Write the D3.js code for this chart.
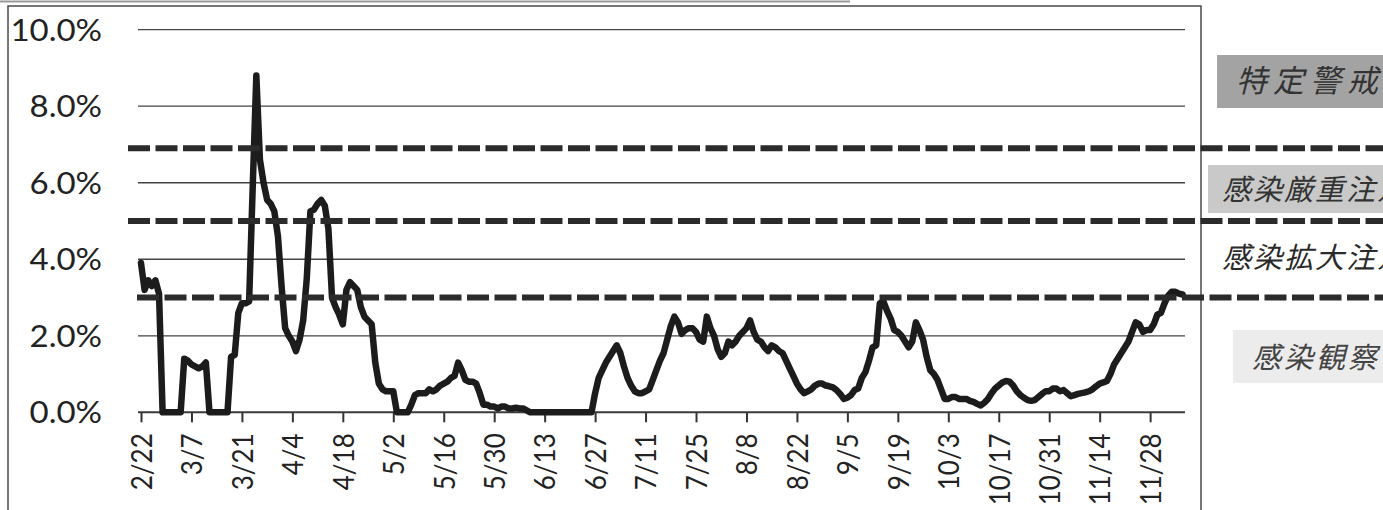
<!DOCTYPE html>
<html>
<head>
<meta charset="utf-8">
<script src="https://cdn.jsdelivr.net/npm/d3@7"></script>
<style>
  html, body { margin: 0; padding: 0; background: #fff; }
  svg { display: block; }
</style>
</head>
<body>
<svg id="chart" width="1383" height="510"></svg>
<script>
// Daily positive rate (%), one value per day starting at startDate
const startDate = "2020-02-22";
const positiveRate = [
  3.9, 3.2, 3.45, 3.3, 3.45, 3.1, 0, 0, 0, 0,
  0, 0, 1.4, 1.35, 1.25, 1.2, 1.15, 1.2, 1.3, 0,
  0, 0, 0, 0, 0, 1.45, 1.5, 2.6, 2.85, 2.85,
  2.9, 5.9, 8.8, 6.6, 6.0, 5.55, 5.45, 5.25, 4.6, 3.3,
  2.2, 2.0, 1.85, 1.6, 1.9, 2.4, 3.5, 5.25, 5.3, 5.45,
  5.55, 5.4, 4.8, 3.0, 2.75, 2.55, 2.3, 3.2, 3.4, 3.3,
  3.2, 2.75, 2.5, 2.4, 2.3, 1.3, 0.75, 0.6, 0.55, 0.55,
  0.55, 0, 0, 0, 0, 0.2, 0.45, 0.5, 0.5, 0.5,
  0.6, 0.55, 0.6, 0.7, 0.75, 0.8, 0.9, 0.95, 1.3, 1.1,
  0.85, 0.8, 0.8, 0.75, 0.5, 0.2, 0.2, 0.15, 0.15, 0.1,
  0.15, 0.15, 0.1, 0.1, 0.12, 0.1, 0.1, 0.05, 0, 0,
  0, 0, 0, 0, 0, 0, 0, 0, 0, 0,
  0, 0, 0, 0, 0, 0, 0.5, 0.9, 1.1, 1.3,
  1.45, 1.6, 1.75, 1.55, 1.2, 0.9, 0.7, 0.55, 0.5, 0.5,
  0.55, 0.6, 0.85, 1.1, 1.35, 1.55, 1.9, 2.25, 2.5, 2.35,
  2.05, 2.15, 2.2, 2.2, 2.1, 1.9, 1.85, 2.5, 2.2, 2.0,
  1.65, 1.45, 1.55, 1.85, 1.75, 1.85, 2.0, 2.1, 2.2, 2.4,
  2.1, 1.9, 1.85, 1.7, 1.6, 1.75, 1.7, 1.6, 1.55, 1.35,
  1.15, 0.95, 0.75, 0.6, 0.5, 0.55, 0.6, 0.7, 0.75, 0.75,
  0.7, 0.68, 0.65, 0.58, 0.48, 0.35, 0.38, 0.45, 0.58, 0.62,
  0.9, 1.05, 1.35, 1.7, 1.75, 2.85, 2.9, 2.65, 2.45, 2.15,
  2.1, 2.0, 1.85, 1.7, 1.85, 2.35, 2.15, 1.9, 1.45, 1.1,
  1.0, 0.85, 0.6, 0.35, 0.35, 0.4, 0.4, 0.35, 0.35, 0.35,
  0.3, 0.27, 0.22, 0.18, 0.25, 0.35, 0.5, 0.62, 0.7, 0.78,
  0.82, 0.8, 0.7, 0.55, 0.45, 0.38, 0.32, 0.3, 0.32, 0.4,
  0.48, 0.55, 0.55, 0.62, 0.62, 0.55, 0.58, 0.5, 0.42, 0.45,
  0.48, 0.5, 0.52, 0.55, 0.6, 0.68, 0.75, 0.78, 0.82, 1.0,
  1.25, 1.4, 1.55, 1.7, 1.85, 2.1, 2.35, 2.3, 2.1, 2.15,
  2.15, 2.3, 2.55, 2.6, 2.85, 3.05, 3.15, 3.15, 3.1, 3.08
];

// Category axis labels (every 14 days)
const tickLabels = ["2/22", "3/7", "3/21", "4/4", "4/18", "5/2", "5/16", "5/30",
  "6/13", "6/27", "7/11", "7/25", "8/8", "8/22", "9/5", "9/19", "10/3",
  "10/17", "10/31", "11/14", "11/28"];
const tickYear = 2020;

// Value axis ticks (%)
const yTicks = [0, 2, 4, 6, 8, 10];

// Alert thresholds (%) and the level names between them, top to bottom
const levelLines = [6.9, 5.0, 3.0];
const levelNames = ["特定警戒", "感染厳重注意", "感染拡大注意", "感染観察"];

// ---- drawing ----
const svg = d3.select("#chart");
const parseDay = d3.utcParse("%Y-%m-%d");
const parseTick = d3.utcParse("%Y/%m/%d");
const start = parseDay(startDate);
const dates = positiveRate.map((_, i) => d3.utcDay.offset(start, i));
const tickDates = tickLabels.map(t => parseTick(tickYear + "/" + t));

const x = d3.scaleUtc()
  .domain([start, dates[dates.length - 1]])
  .range([141, 141 + 3.604 * (dates.length - 1)]);
const y = d3.scaleLinear().domain([0, 10]).range([412.3, 29.7]);

const plotLeft = 138, plotRight = 1185;

// faint edge line of the sheet above the chart frame
svg.append("line")
  .attr("x1", 0).attr("x2", 850).attr("y1", 1.5).attr("y2", 1.5)
  .attr("stroke", "#9a9a9a").attr("stroke-width", 2);

// chart frame
svg.append("rect")
  .attr("x", 8).attr("y", 6).attr("width", 1193).attr("height", 530)
  .attr("fill", "none").attr("stroke", "#4a4a4a").attr("stroke-width", 1.5);

// horizontal gridlines
svg.append("g").selectAll("line")
  .data(yTicks.filter(v => v > 0))
  .join("line")
  .attr("x1", plotLeft).attr("x2", plotRight)
  .attr("y1", d => y(d)).attr("y2", d => y(d))
  .attr("stroke", "#454545").attr("stroke-width", 1.3);

// value axis labels
const fmt = d3.format(".1f");
svg.append("g").selectAll("text")
  .data(yTicks)
  .join("text")
  .attr("transform", d => `translate(102,${y(d)}) scale(1.1,1)`)
  .attr("text-anchor", "end")
  .attr("dy", "0.36em")
  .attr("font-family", "Lato, 'Open Sans', sans-serif")
  .attr("font-size", 30)
  .attr("fill", "#222")
  .text(d => fmt(d) + "%");

// category axis
const xAxis = d3.axisBottom(x)
  .tickValues(tickDates)
  .tickFormat((d, i) => tickLabels[i])
  .tickSize(10)
  .tickSizeOuter(0);

const gx = svg.append("g")
  .attr("transform", `translate(0,${y(0)})`)
  .call(xAxis);
gx.select(".domain").remove();
gx.selectAll(".tick line").attr("stroke", "#333").attr("stroke-width", 2);
gx.selectAll(".tick text")
  .attr("transform", "scale(1.1,1) rotate(-90)")
  .attr("x", -21)
  .attr("y", 0)
  .attr("dy", "0.36em")
  .attr("text-anchor", "end")
  .attr("font-family", "Lato, 'Open Sans', sans-serif")
  .attr("font-size", 26)
  .attr("fill", "#222");

// zero line
svg.append("line")
  .attr("x1", plotLeft).attr("x2", plotRight)
  .attr("y1", y(0)).attr("y2", y(0))
  .attr("stroke", "#3a3a3a").attr("stroke-width", 2);

// positive rate line
const line = d3.line()
  .x((d, i) => x(dates[i]))
  .y(d => y(d));

svg.append("path")
  .datum(positiveRate)
  .attr("d", line)
  .attr("fill", "none")
  .attr("stroke", "#1c1c1c")
  .attr("stroke-width", 6.5)
  .attr("stroke-linejoin", "round")
  .attr("stroke-linecap", "round");

// level label boxes and names (the strip runs off the right edge of the page)
const labelLayout = [
  { box: [1217, 55, 200, 53], fill: "#a3a3a3", x: 1236, cy: 81, size: 31, spacing: 6, color: "#333" },
  { box: [1208, 165, 200, 48], fill: "#c9c9c9", x: 1222, cy: 190, size: 29, spacing: 2, color: "#333" },
  { box: null, fill: null, x: 1222, cy: 258, size: 29, spacing: 2, color: "#2a2a2a" },
  { box: [1233, 330, 200, 53], fill: "#ececec", x: 1252, cy: 358, size: 29, spacing: 3, color: "#444" }
];

const gl = svg.append("g");
levelNames.forEach((name, i) => {
  const L = labelLayout[i];
  if (L.box) {
    gl.append("rect")
      .attr("x", L.box[0]).attr("y", L.box[1])
      .attr("width", L.box[2]).attr("height", L.box[3])
      .attr("fill", L.fill);
  }
  gl.append("text")
    .attr("x", L.x).attr("y", L.cy)
    .attr("dy", "0.36em")
    .attr("font-family", "'Noto Sans CJK JP', sans-serif")
    .attr("font-style", "italic")
    .attr("font-size", L.size)
    .attr("letter-spacing", L.spacing)
    .attr("fill", L.color)
    .text(name);
});

// dashed threshold lines
const dashStart = [128, 128, 137];
const gd = svg.append("g");
levelLines.forEach((v, i) => {
  gd.append("line")
    .attr("x1", dashStart[i]).attr("x2", 1383)
    .attr("y1", y(v)).attr("y2", y(v))
    .attr("stroke", "#2b2b2b")
    .attr("stroke-width", 6)
    .attr("stroke-dasharray", "22,5.5");
});
</script>
</body>
</html>
